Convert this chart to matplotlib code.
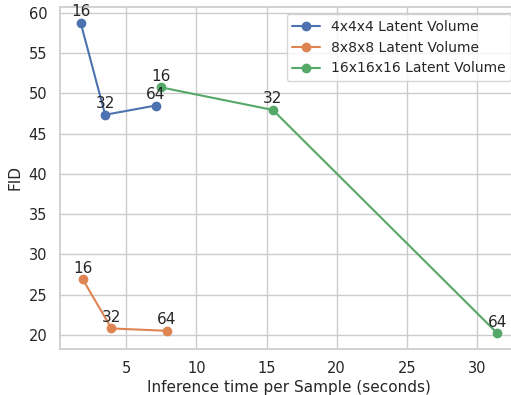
import numpy as np
import matplotlib
matplotlib.use('Agg')
import matplotlib.pyplot as plt
import seaborn as sns

sns.set_theme(style="whitegrid")

# steps per sample, shown next to each point
steps = [16, 32, 64]

labels = ['4x4x4 Latent Volume', '8x8x8 Latent Volume', '16x16x16 Latent Volume']
time_4 = [1.75, 3.5, 7.1]
fid_4 = [58.8, 47.35, 48.5]
time_8 = [1.9, 3.95, 7.9]
fid_8 = [26.9, 20.8, 20.5]
time_16 = [7.5, 15.45, 31.45]
fid_16 = [50.75, 47.95, 20.2]

times = [time_4, time_8, time_16]
fids = [fid_4, fid_8, fid_16]

fig = plt.figure(figsize=(5.11, 3.95), dpi=100)
# the original is cropped a little on the right, so the axes run past the edge
ax = fig.add_axes([0.117, 0.117, 0.897, 0.865])

for t, f, lab in zip(times, fids, labels):
    ax.plot(t, f, marker='o', markersize=6, lw=1.5, label=lab)
    for xi, yi, s in zip(t, f, steps):
        ax.annotate(str(s), (xi, yi), xytext=(0, 2.5), textcoords='offset points',
                    ha='center', va='bottom', fontsize=11, color='#262626')

ax.set_xticks([5, 10, 15, 20, 25, 30])
ax.set_xlabel('Inference time per Sample (seconds)', fontsize=11, labelpad=3)
ax.set_ylabel('FID', fontsize=11)
ax.tick_params(labelsize=10.5, pad=3)
ax.legend(loc='upper right', fontsize=10)

plt.savefig('out.png', dpi=100)
